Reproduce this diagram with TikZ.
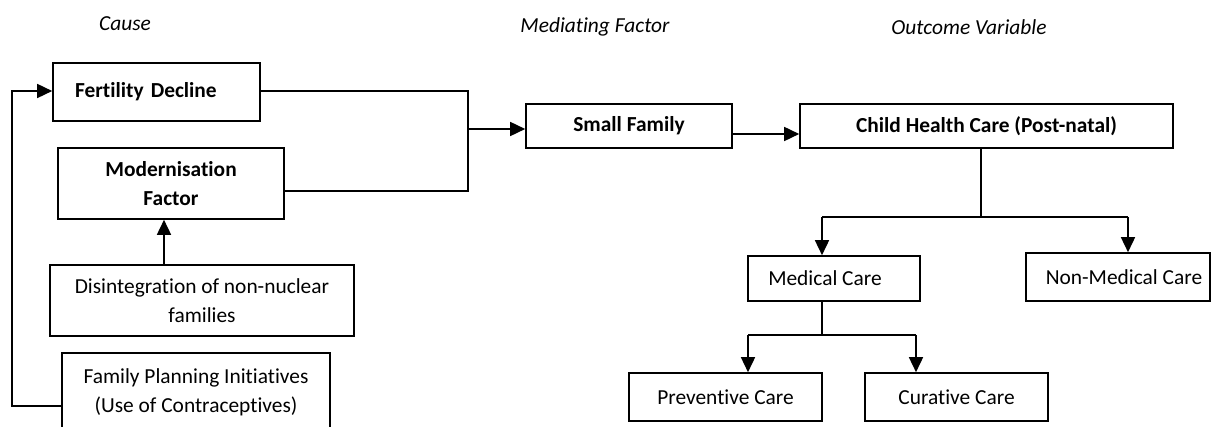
\documentclass[tikz,border=0pt]{standalone}
\usepackage{fontspec}
\setmainfont{Carlito}[Ligatures=NoCommon]
\usetikzlibrary{arrows.meta}
\tikzset{
  x=1pt, y=-1pt,
  box/.style={draw, line width=1.6pt, rectangle, inner sep=0pt, align=center,
    font=\fontsize{21.4}{29}\selectfont},
  boldbox/.style={box, font=\fontsize{21.4}{29}\selectfont\bfseries},
  title/.style={font=\fontsize{21.4}{24}\selectfont\itshape, inner sep=0pt},
  conn/.style={line width=1.6pt},
  arr/.style={conn, -{Triangle[length=15pt, width=14pt]}},
}
\begin{document}
\begin{tikzpicture}
\useasboundingbox (0,0) rectangle (1212,427);
\clip (0,0) rectangle (1212,427);
% titles
\node[title] (tc) at (125,24) {Cause};
\node[title] (tm) at (595,27) {Mediating Factor};
\node[title] (to) at (969,27) {Outcome Variable};
% left column
\node[boldbox, minimum width=207pt, minimum height=58pt, text width=163pt, align=left] (fert) at (156.5,92) {Fertility Decline};
\node[boldbox, minimum width=226pt, minimum height=71pt] (mod) at (171,183.5) {Modernisation\\Factor};
\node[box, minimum width=304pt, minimum height=71pt] (dis) at (202,300.5) {Disintegration of non-nuclear\\families};
\node[box, minimum width=268pt, minimum height=79pt] (fp) at (196,392.5) {Family Planning Initiatives\\(Use of Contraceptives)};
% middle / right
\node[boldbox, minimum width=206pt, minimum height=44pt] (sf) at (629,126) {Small Family};
\node[boldbox, minimum width=373pt, minimum height=44pt] (chc) at (986.5,126) {Child Health Care (Post-natal)};
\node[box, minimum width=172pt, minimum height=45pt] (med) at (834,278.5) {\hspace*{-18pt}Medical Care};
\node[box, minimum width=184pt, minimum height=48pt] (nmed) at (1118,277) {\hspace*{12pt}Non-Medical Care};
\node[box, minimum width=193pt, minimum height=48pt] (prev) at (725.5,397) {Preventive Care};
\node[box, minimum width=183pt, minimum height=48pt] (cur) at (956.5,397) {Curative Care};
% junction coordinates
\coordinate (j1) at (468,91);
\coordinate (j2) at (468,191);
\coordinate (j3) at (468,129);
\coordinate (j4) at (766,134);
\coordinate (b1) at (981,217);
\coordinate (b2) at (822,217);
\coordinate (b3) at (1128,217);
\coordinate (c1) at (822,335);
\coordinate (c2) at (748,335);
\coordinate (c3) at (916,335);
\coordinate (u1) at (164,0);
\coordinate (f1) at (12,406);
\coordinate (f2) at (12,91);
% connectors
\draw[conn] (fert.east |- j1) -- (j1) -- (j2) -- (mod.east |- j2);
\draw[arr] (j3) -- (sf.west |- j3);
\draw[arr] (sf.east |- j4) -- (chc.west |- j4);
\draw[conn] (chc.south -| b1) -- (b1);
\draw[conn] (b2) -- (b3);
\draw[arr] (b2) -- (med.north -| b2);
\draw[arr] (b3) -- (nmed.north -| b3);
\draw[conn] (med.south -| c1) -- (c1);
\draw[conn] (c2) -- (c3);
\draw[arr] (c2) -- (prev.north -| c2);
\draw[arr] (c3) -- (cur.north -| c3);
\draw[arr] (dis.north -| u1) -- (mod.south -| u1);
\draw[arr] (fp.west |- f1) -- (f1) -- (f2) -- (fert.west |- f2);
\end{tikzpicture}
\end{document}
